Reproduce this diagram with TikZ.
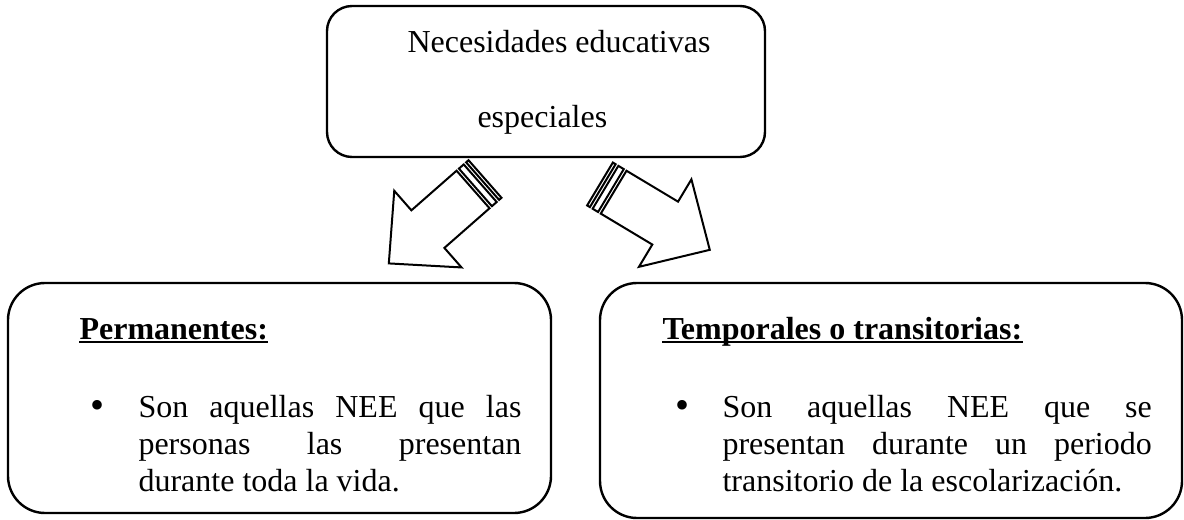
\documentclass[tikz,border=0pt]{standalone}
\usepackage{fontspec}
\setmainfont{Liberation Serif}
\usetikzlibrary{fit}
\begin{document}
\begin{tikzpicture}[x=0.375pt,y=-0.375pt,
  boxshape/.style={draw, line width=0.9pt, inner sep=0pt, fill=white},
  txt/.style={inner sep=0pt, font=\fontsize{12}{13.9}\selectfont},
  bul/.style={inner sep=0pt, font=\fontsize{15}{15}\selectfont},
  headtxt/.style={inner sep=0pt, font=\fontsize{12}{13.9}\selectfont\bfseries},
  para/.style={inner sep=0pt, align=justify, font=\fontsize{12}{13.9}\selectfont},
  blockarrow/.style={draw, line width=0.75pt, fill=white, line join=miter},
  uline/.style={line width=0.75pt}]
\useasboundingbox (0,0) rectangle (1184,520);

% boxes
\node[boxshape, rounded corners=9.4pt, fit={(327,6) (765,157)}] (top) {};
\node[boxshape, rounded corners=13.9pt, fit={(8,283) (551,513)}] (perm) {};
\node[boxshape, rounded corners=13.9pt, fit={(600,283) (1182,518)}] (temp) {};

% top texts
\node[txt, anchor=base west] (t1) at (407,53) {Necesidades educativas};
\node[txt, anchor=base west] (t2) at (477,128) {especiales};

% arrow anchors
\coordinate (la) at (485,179);
\coordinate (ra) at (600,184);

% left striped arrow
\begin{scope}[shift={(la)}, x={(-0.2818pt,-0.2473pt)}, y={(0.2473pt,-0.2818pt)}]
  \draw[blockarrow] (0,-25) -- (3.2,-25) -- (3.2,25) -- (0,25) -- cycle;
  \draw[blockarrow] (6.4,-25) -- (12.75,-25) -- (12.75,25) -- (6.4,25) -- cycle;
  \draw[blockarrow] (15.9,-25) -- (76,-25) -- (76,-51) -- (128,0) -- (76,51) -- (76,25) -- (15.9,25) -- cycle;
\end{scope}

% right striped arrow
\begin{scope}[shift={(ra)}, x={(0.3216pt,-0.1929pt)}, y={(0.1929pt,0.3216pt)}]
  \draw[blockarrow] (0,-25) -- (3.2,-25) -- (3.2,25) -- (0,25) -- cycle;
  \draw[blockarrow] (6.4,-25) -- (12.75,-25) -- (12.75,25) -- (6.4,25) -- cycle;
  \draw[blockarrow] (15.9,-25) -- (76,-25) -- (76,-51) -- (128,0) -- (76,51) -- (76,25) -- (15.9,25) -- cycle;
\end{scope}

% headings
\node[headtxt, anchor=base west] (h1) at (79,339) {Permanentes:};
\node[headtxt, anchor=base west] (h2) at (662,339) {Temporales o transitorias:};
\draw[uline] ([yshift=-1.3pt]h1.base west) -- ([yshift=-1.3pt]h1.base east);
\draw[uline] ([yshift=-1.3pt]h2.base west) -- ([yshift=-1.3pt]h2.base east);

% bullets
\node[bul, anchor=base] (b1) at (97,418) {\textbullet};
\node[bul, anchor=base] (b2) at (682,418) {\textbullet};

% paragraphs
\node[para, text width=143.6pt, anchor=base west] (p1) at (138,417)
  {Son aquellas NEE que las\linebreak personas las presentan\linebreak durante toda la vida.};
\node[para, text width=161pt, anchor=base west] (p2) at (722,417)
  {Son aquellas NEE que se\linebreak presentan durante un periodo\linebreak transitorio de la escolarización.};
\end{tikzpicture}
\end{document}
